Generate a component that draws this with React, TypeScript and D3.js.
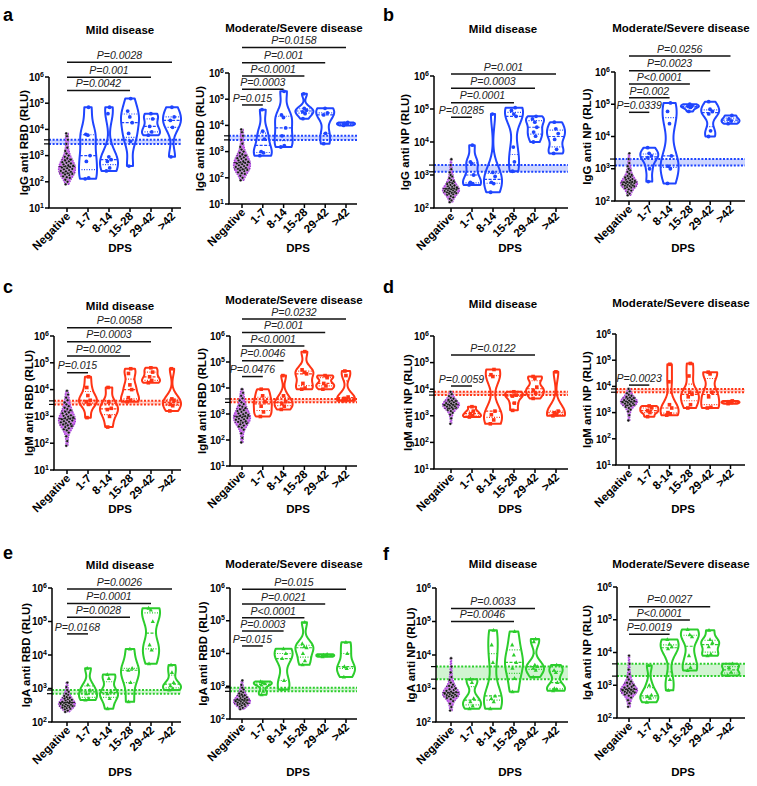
import React from 'react';
import * as d3 from 'd3';

const FONT = 'Liberation Sans, Arial, Helvetica, sans-serif';

const categories = ['Negative', '1-7', '8-14', '15-28', '29-42', '>42'];

// ---- negative cohorts (RLU) ----
const negIgGRBD = [80, 100, 120, 140, 150, 160, 180, 190, 200, 210, 220, 240, 250, 260, 280, 300, 310, 330, 350, 370, 390, 410, 430, 460, 500, 530, 560, 600, 650, 700, 800, 900, 1000, 1200, 1500, 2000, 2800, 4000, 5500, 7000];
const negIgGNP = [150, 170, 190, 210, 230, 250, 260, 270, 280, 290, 300, 310, 320, 330, 340, 350, 360, 370, 380, 390, 400, 420, 440, 460, 480, 500, 530, 560, 600, 650, 700, 800, 900, 1000, 1200, 1500, 2000, 3000];
const negIgMRBD = [80, 120, 180, 250, 300, 330, 360, 400, 430, 460, 500, 530, 560, 600, 630, 660, 700, 740, 780, 820, 870, 920, 980, 1050, 1100, 1200, 1300, 1400, 1500, 1700, 1900, 2100, 2400, 2800, 3300, 4000, 5000, 6500, 9000];
const negIgMNP = [500, 800, 1100, 1300, 1500, 1650, 1800, 1900, 2000, 2100, 2200, 2300, 2400, 2500, 2600, 2700, 2800, 2900, 3000, 3200, 3400, 3600, 3800, 4000, 4400, 4800, 5500, 6500, 8000];
const negIgARBD = [200, 220, 240, 250, 260, 270, 280, 290, 300, 310, 320, 330, 340, 350, 360, 370, 380, 390, 400, 420, 440, 460, 480, 500, 530, 560, 600, 650, 700, 800, 900, 1100, 1500];
const negIgANP = [220, 280, 350, 420, 480, 520, 550, 580, 600, 620, 640, 660, 680, 700, 720, 750, 780, 800, 850, 900, 950, 1000, 1100, 1200, 1300, 1500, 1800, 2200, 3000, 4500, 8000];

// ---- patient groups: 1-7, 8-14, 15-28, 29-42, >42 (RLU) ----
const igGRBDMild = [[70000, 6500, 6000, 1000, 600, 140, 130], [70000, 40000, 900, 700, 600, 340, 260], [150000, 50000, 30000, 18000, 7000, 3500, 400], [40000, 25000, 13000, 8000, 6000], [70000, 30000, 22000, 12000, 900]];
const igGRBDSevere = [[40000, 6000, 3000, 1000, 900, 700], [200000, 25000, 20000, 8000, 4000, 1700, 1500], [160000, 45000, 38000, 33000, 28000, 18000], [45000, 30000, 25000, 5000, 2000], [13000, 12000, 11000, 10000]];
const igGNPMild = [[8000, 2500, 2200, 1000, 600, 550, 500], [70000, 1200, 900, 600, 550, 300], [110000, 90000, 70000, 60000, 7000, 2500, 1300], [60000, 50000, 40000, 28000, 20000, 15000, 10000], [40000, 25000, 18000, 12000, 6000, 4500]];
const igGNPSevere = [[4500, 3000, 2500, 2200, 1000, 400], [110000, 60000, 25000, 2500, 1200, 1000, 350], [100000, 90000, 85000, 80000, 60000], [120000, 70000, 60000, 50000, 15000, 10000], [45000, 35000, 30000, 25000]];
const igMRBDMild = [[30000, 12000, 6000, 4000, 3500, 2800, 900], [12000, 3500, 2000, 1800, 1000, 400], [60000, 40000, 15000, 10000, 5000, 4000, 3500], [65000, 45000, 30000, 22000, 18000], [60000, 4500, 4000, 2800, 2500, 1600]];
const igMRBDSevere = [[9000, 5000, 3000, 2000, 1200, 800], [30000, 5000, 3000, 2500, 2000, 1500], [250000, 50000, 40000, 35000, 15000, 10000, 9000], [30000, 25000, 15000, 12000, 9000], [45000, 30000, 4500, 4000, 3500, 3200]];
const igMNPMild = [[2200, 1500, 1200, 1000, 900], [55000, 35000, 30000, 1500, 1100, 700, 500], [8000, 6000, 5500, 3000, 1600], [30000, 25000, 12000, 9000, 7000, 4500], [45000, 1500, 1300, 1100, 1000]];
const igMNPSevere = [[1800, 1500, 1200, 1000, 700], [70000, 15000, 2000, 1500, 1000, 900, 800], [75000, 25000, 6000, 5000, 4000, 2000, 1500], [35000, 30000, 6000, 4000, 1600, 1500], [2800, 2600, 2400, 2200]];
const igARBDMild = [[4000, 1300, 900, 700, 500, 450], [2600, 2000, 800, 700, 500, 250], [15000, 4000, 3500, 1500, 400], [250000, 220000, 100000, 20000, 14000, 5500], [5000, 3000, 1500, 1200, 1000, 900]];
const igARBDSevere = [[1400, 1300, 1200, 1100, 700, 550], [14000, 10000, 7000, 1500, 800], [90000, 20000, 16000, 15000, 10000, 6000, 4500], [9500, 9000, 8500, 8000], [22000, 10000, 4000, 3500, 1900]];
const igANPMild = [[1900, 1500, 500, 400, 300, 250], [55000, 20000, 6000, 600, 500, 400, 250], [50000, 20000, 10000, 6000, 4000, 2000, 800], [30000, 25000, 5000, 4500, 4000, 3500, 2200], [5000, 3500, 3000, 1500, 1000, 950, 850]];
const igANPSevere = [[4000, 1000, 500, 450, 400, 300], [25000, 18000, 15000, 13000, 1500, 700], [50000, 35000, 30000, 8000, 3500, 2800], [48000, 25000, 20000, 15000, 9000, 8000], [4500, 3500, 2500, 2000]];

// ---- cut-off bands (RLU) ----
const thrIgGRBD = [2800, 4000];
const thrIgGNP = [1250, 2000];
const thrIgMRBD = [2800, 3800];
const thrIgMNP = [6000, 8000];
const thrIgARBD = [700, 900];
const thrIgANP = [1900, 4500];

// ---- significance brackets: target group index, height (log10 RLU), label ----
type Br = [number, number, string];
const pIgGRBDMild: Br[] = [[3, 5.48, 'P=0.0042'], [4, 5.99, 'P=0.001'], [5, 6.56, 'P=0.0028']];
const pIgGRBDSevere: Br[] = [[1, 4.78, 'P=0.015'], [2, 5.38, 'P=0.0003'], [3, 5.89, 'P<0.0001'], [4, 6.39, 'P=0.001'], [5, 6.97, 'P=0.0158']];
const pIgGNPMild: Br[] = [[1, 4.75, 'P=0.0285'], [3, 5.19, 'P=0.0001'], [4, 5.63, 'P=0.0003'], [5, 6.06, 'P=0.001']];
const pIgGNPSevere: Br[] = [[1, 4.75, 'P=0.0339'], [2, 5.2, 'P=0.002'], [3, 5.63, 'P<0.0001'], [4, 6.04, 'P=0.0023'], [5, 6.5, 'P=0.0256']];
const pIgMRBDMild: Br[] = [[1, 4.63, 'P=0.015'], [3, 5.25, 'P=0.0002'], [4, 5.79, 'P=0.0003'], [5, 6.31, 'P=0.0058']];
const pIgMRBDSevere: Br[] = [[1, 4.44, 'P=0.0476'], [2, 5.05, 'P=0.0046'], [3, 5.62, 'P<0.0001'], [4, 6.13, 'P=0.001'], [5, 6.65, 'P=0.0232']];
const pIgMNPMild: Br[] = [[1, 4.12, 'P=0.0059'], [4, 5.29, 'P=0.0122']];
const pIgMNPSevere: Br[] = [[1, 4.05, 'P=0.0023']];
const pIgARBDMild: Br[] = [[1, 4.63, 'P=0.0168'], [3, 5.13, 'P=0.0028'], [4, 5.54, 'P=0.0001'], [5, 5.97, 'P=0.0026']];
const pIgARBDSevere: Br[] = [[1, 4.23, 'P=0.015'], [2, 4.69, 'P=0.0003'], [3, 5.09, 'P<0.0001'], [4, 5.51, 'P=0.0021'], [5, 5.96, 'P=0.015']];
const pIgANPMild: Br[] = [[3, 5.0, 'P=0.0046'], [4, 5.39, 'P=0.0033']];
const pIgANPSevere: Br[] = [[2, 4.56, 'P=0.0019'], [3, 4.99, 'P<0.0001'], [4, 5.4, 'P=0.0027']];

const BLUE = '#1f45ff';
const RED = '#ff3414';
const GREEN = '#2ccd2c';

type Layout = { x0: number; cat0: number; step: number; xEnd: number; yTop: number; yBot: number; ylabX: number; titleX: number; titleY: number; dpsX: number; dpsY: number };
const colX = [
  { cat0: 67, step: 21, xEnd: 181, titleX: 120, dpsX: 120 },
  { cat0: 242, step: 20.8, xEnd: 357, titleX: 294, dpsX: 298 },
  { cat0: 451, step: 21, xEnd: 568, titleX: 503, dpsX: 510 },
  { cat0: 629, step: 20.3, xEnd: 745, titleX: 681, dpsX: 683 },
];
const rowX0 = [[49, 229, 434, 615], [54, 230, 434, 616], [52, 230, 436, 617]];
const rowYTop = [[77, 73, 76, 72], [336, 336, 336, 334], [588, 588, 588, 587]];
const rowYBot = [[208, 204, 208, 201], [470, 466, 469, 465], [722, 719, 722, 718]];
const rowTitleY = [[30, 28, 29, 28], [306, 300, 304, 303], [565, 564, 564, 564]];
const rowYlabX = [[24, 200, 405, 587], [29, 202, 408, 587], [26, 203, 411, 587]];
const rowDpsY = [248, 509, 772];

function layout(r: number, c: number): Layout {
  return {
    x0: rowX0[r][c], cat0: colX[c].cat0, step: colX[c].step, xEnd: colX[c].xEnd,
    yTop: rowYTop[r][c], yBot: rowYBot[r][c], ylabX: rowYlabX[r][c],
    titleX: colX[c].titleX, titleY: rowTitleY[r][c], dpsX: colX[c].dpsX, dpsY: rowDpsY[r],
  };
}

type PanelDef = { title: string; ylabel: string; neg: number[]; groups: number[][]; br: Br[]; thr: number[]; color: string; marker: string; minExp: number; r: number; c: number };

const panels: PanelDef[] = [
  { title: 'Mild disease', ylabel: 'IgG anti RBD (RLU)', neg: negIgGRBD, groups: igGRBDMild, br: pIgGRBDMild, thr: thrIgGRBD, color: BLUE, marker: 'circle', minExp: 1, r: 0, c: 0 },
  { title: 'Moderate/Severe disease', ylabel: 'IgG anti RBD (RLU)', neg: negIgGRBD, groups: igGRBDSevere, br: pIgGRBDSevere, thr: thrIgGRBD, color: BLUE, marker: 'circle', minExp: 1, r: 0, c: 1 },
  { title: 'Mild disease', ylabel: 'IgG anti NP (RLU)', neg: negIgGNP, groups: igGNPMild, br: pIgGNPMild, thr: thrIgGNP, color: BLUE, marker: 'circle', minExp: 2, r: 0, c: 2 },
  { title: 'Moderate/Severe disease', ylabel: 'IgG anti NP (RLU)', neg: negIgGNP, groups: igGNPSevere, br: pIgGNPSevere, thr: thrIgGNP, color: BLUE, marker: 'circle', minExp: 2, r: 0, c: 3 },
  { title: 'Mild disease', ylabel: 'IgM anti RBD (RLU)', neg: negIgMRBD, groups: igMRBDMild, br: pIgMRBDMild, thr: thrIgMRBD, color: RED, marker: 'square', minExp: 1, r: 1, c: 0 },
  { title: 'Moderate/Severe disease', ylabel: 'IgM anti RBD (RLU)', neg: negIgMRBD, groups: igMRBDSevere, br: pIgMRBDSevere, thr: thrIgMRBD, color: RED, marker: 'square', minExp: 1, r: 1, c: 1 },
  { title: 'Mild disease', ylabel: 'IgM anti NP (RLU)', neg: negIgMNP, groups: igMNPMild, br: pIgMNPMild, thr: thrIgMNP, color: RED, marker: 'square', minExp: 1, r: 1, c: 2 },
  { title: 'Moderate/Severe disease', ylabel: 'IgM anti NP (RLU)', neg: negIgMNP, groups: igMNPSevere, br: pIgMNPSevere, thr: thrIgMNP, color: RED, marker: 'square', minExp: 1, r: 1, c: 3 },
  { title: 'Mild disease', ylabel: 'IgA anti RBD (RLU)', neg: negIgARBD, groups: igARBDMild, br: pIgARBDMild, thr: thrIgARBD, color: GREEN, marker: 'triangle', minExp: 2, r: 2, c: 0 },
  { title: 'Moderate/Severe disease', ylabel: 'IgA anti RBD (RLU)', neg: negIgARBD, groups: igARBDSevere, br: pIgARBDSevere, thr: thrIgARBD, color: GREEN, marker: 'triangle', minExp: 2, r: 2, c: 1 },
  { title: 'Mild disease', ylabel: 'IgA anti NP (RLU)', neg: negIgANP, groups: igANPMild, br: pIgANPMild, thr: thrIgANP, color: GREEN, marker: 'triangle', minExp: 2, r: 2, c: 2 },
  { title: 'Moderate/Severe disease', ylabel: 'IgA anti NP (RLU)', neg: negIgANP, groups: igANPSevere, br: pIgANPSevere, thr: thrIgANP, color: GREEN, marker: 'triangle', minExp: 2, r: 2, c: 3 },
];

const letters = [
  { t: 'a', x: 3, y: 21 }, { t: 'b', x: 383, y: 21 },
  { t: 'c', x: 3, y: 293 }, { t: 'd', x: 383, y: 293 },
  { t: 'e', x: 3, y: 559 }, { t: 'f', x: 383, y: 560 },
];

function violinStats(vals: number[], bwScale: number) {
  const lv = vals.map((v) => Math.log10(v)).sort((a, b) => a - b);
  const n = lv.length;
  const sd = d3.deviation(lv) || 0.1;
  const bw = Math.max(0.06, bwScale * 1.06 * sd * Math.pow(n, -0.2));
  const lo = lv[0];
  const hi = lv[n - 1];
  const N = 48;
  const grid = d3.range(N + 1).map((i) => lo + ((hi - lo) * i) / N);
  const dens = grid.map((t) => d3.sum(lv, (v) => Math.exp(-0.5 * ((t - v) / bw) ** 2)));
  const dmax = d3.max(dens) || 1;
  const w = dens.map((d) => d / dmax);
  const widthAt = (t: number) => {
    if (hi === lo) return 1;
    const f = ((t - lo) / (hi - lo)) * N;
    const i = Math.max(0, Math.min(N - 1, Math.floor(f)));
    const r = f - i;
    return w[i] * (1 - r) + w[i + 1] * r;
  };
  return {
    lv, grid, w, widthAt,
    q1: d3.quantile(lv, 0.25)!, med: d3.quantile(lv, 0.5)!, q3: d3.quantile(lv, 0.75)!,
  };
}

function Marker({ kind, x, y, color }: { kind: string; x: number; y: number; color: string }) {
  if (kind === 'square') return <rect x={x - 1.8} y={y - 1.8} width={3.6} height={3.6} fill={color} />;
  if (kind === 'triangle') return <path d={`M${x},${y - 2.3}L${x + 2.1},${y + 1.5}L${x - 2.1},${y + 1.5}Z`} fill={color} />;
  return <circle cx={x} cy={y} r={1.9} fill={color} />;
}

function Panel({ p }: { p: PanelDef }) {
  const L = layout(p.r, p.c);
  const y = d3.scaleLog().domain([10 ** p.minExp, 1e6]).range([L.yBot, L.yTop]);
  const x = d3.scalePoint<string>().domain(categories).range([L.cat0, L.cat0 + 5 * L.step]);
  const ticks = d3.range(p.minExp, 7);
  const HW = 9;
  const yl = (t: number) => y(10 ** t);

  const negS = violinStats(p.neg, 0.6);
  const negX = x('Negative')!;
  const area = (s: ReturnType<typeof violinStats>, cx: number, hw: number) =>
    d3.area<number>()
      .y((t) => yl(t))
      .x0((t, i) => cx - hw * s.w[i])
      .x1((t, i) => cx + hw * s.w[i])
      .curve(d3.curveMonotoneY)(s.grid) || '';

  const bandTop = y(p.thr[1]);
  const bandBot = y(p.thr[0]);

  return (
    <g>
      <text x={L.titleX} y={L.titleY} textAnchor="middle" dominantBaseline="central" fontFamily={FONT} fontWeight="bold" fontSize={11.5}>{p.title}</text>
      <text transform={`translate(${L.ylabX},${(L.yTop + L.yBot) / 2}) rotate(-90)`} textAnchor="middle" dominantBaseline="central" fontFamily={FONT} fontWeight="bold" fontSize={11.5}>{p.ylabel}</text>
      <text x={L.dpsX} y={L.dpsY} textAnchor="middle" dominantBaseline="central" fontFamily={FONT} fontWeight="bold" fontSize={11.5}>DPS</text>

      <rect x={L.x0} y={bandTop} width={L.xEnd - L.x0} height={bandBot - bandTop} fill={p.color} fillOpacity={0.22} />
      {[bandTop, bandBot].map((yy, i) => (
        <line key={i} x1={L.x0} x2={L.xEnd} y1={yy} y2={yy} stroke={p.color} strokeWidth={2} strokeDasharray="2 1.6" />
      ))}

      <path d={area(negS, negX, 8.5)} fill="#c865ea" stroke="#a23bd6" strokeWidth={1.2} strokeDasharray="1.5 1" />
      {negS.lv.map((t, i) => {
        const f = ((i * 0.618034) % 1) * 2 - 1;
        return <circle key={i} cx={negX + f * 8.5 * negS.widthAt(t) * 0.8} cy={yl(t)} r={1.4} fill="#111" stroke="#fff" strokeWidth={0.35} />;
      })}
      {[negS.q1, negS.med, negS.q3].map((t, i) => {
        const hw = 8.5 * negS.widthAt(t);
        return <line key={i} x1={negX - hw} x2={negX + hw} y1={yl(t)} y2={yl(t)} stroke="#222" strokeWidth={1} strokeDasharray={i === 1 ? '3 1.5' : '1 1.5'} />;
      })}

      {p.groups.map((g, gi) => {
        const cx = x(categories[gi + 1])!;
        const s = violinStats(g, 0.6);
        return (
          <g key={gi}>
            <path d={area(s, cx, HW)} fill="none" stroke={p.color} strokeWidth={2} strokeLinejoin="round" />
            {[s.q1, s.med, s.q3].map((t, i) => {
              const hw = HW * s.widthAt(t);
              return <line key={i} x1={cx - hw} x2={cx + hw} y1={yl(t)} y2={yl(t)} stroke={p.color} strokeWidth={1.2} strokeDasharray={i === 1 ? '3 1.5' : '1 1.5'} />;
            })}
            {s.lv.map((t, i) => {
              const f = ((i * 0.618034) % 1) * 2 - 1;
              return <Marker key={i} kind={p.marker} x={cx + f * HW * s.widthAt(t) * 0.35} y={yl(t)} color={p.color} />;
            })}
          </g>
        );
      })}

      <line x1={L.x0} x2={L.x0} y1={L.yTop} y2={L.yBot} stroke="#000" strokeWidth={1.5} />
      <line x1={L.x0 - 0.75} x2={L.xEnd} y1={L.yBot} y2={L.yBot} stroke="#000" strokeWidth={1.5} />
      {ticks.map((e) => (
        <g key={e}>
          <line x1={L.x0 - 4} x2={L.x0} y1={yl(e)} y2={yl(e)} stroke="#000" strokeWidth={1.5} />
          <text x={L.x0 - 5} y={yl(e) + 3.7} textAnchor="end" fontFamily={FONT} fontWeight="bold" fontSize={10}>
            10<tspan dy={-4.2} fontSize={7}>{e}</tspan>
          </text>
        </g>
      ))}
      {p.thr.map((v, i) => (
        <line key={i} x1={L.x0 - 5} x2={L.x0} y1={y(v)} y2={y(v)} stroke="#000" strokeWidth={1.2} />
      ))}
      {categories.map((c) => (
        <g key={c}>
          <line x1={x(c)!} x2={x(c)!} y1={L.yBot} y2={L.yBot + 4} stroke="#000" strokeWidth={1.5} />
          <text transform={`translate(${x(c)! + 4},${L.yBot + 9}) rotate(-45)`} textAnchor="end" fontFamily={FONT} fontWeight="bold" fontSize={11.5}>{c}</text>
        </g>
      ))}

      {p.br.map(([to, h, lab], i) => {
        const x1 = negX;
        const x2 = x(categories[to])!;
        const yy = yl(h);
        return (
          <g key={i}>
            <line x1={x1} x2={x2} y1={yy} y2={yy} stroke="#111" strokeWidth={1.5} />
            <text x={(x1 + x2) / 2} y={yy - 3.3} textAnchor="middle" fontFamily={FONT} fontStyle="italic" fontSize={10.5} fill="#222">{lab}</text>
          </g>
        );
      })}
    </g>
  );
}

export default function App() {
  return (
    <svg width={757} height={786} viewBox="0 0 757 786" style={{ position: 'absolute', left: 0, top: 0, background: '#fff' }}>
      <rect width={757} height={786} fill="#fff" />
      {letters.map((l) => (
        <text key={l.t} x={l.x} y={l.y} fontFamily={FONT} fontWeight="bold" fontSize={18}>{l.t}</text>
      ))}
      {panels.map((p, i) => <Panel key={i} p={p} />)}
    </svg>
  );
}
